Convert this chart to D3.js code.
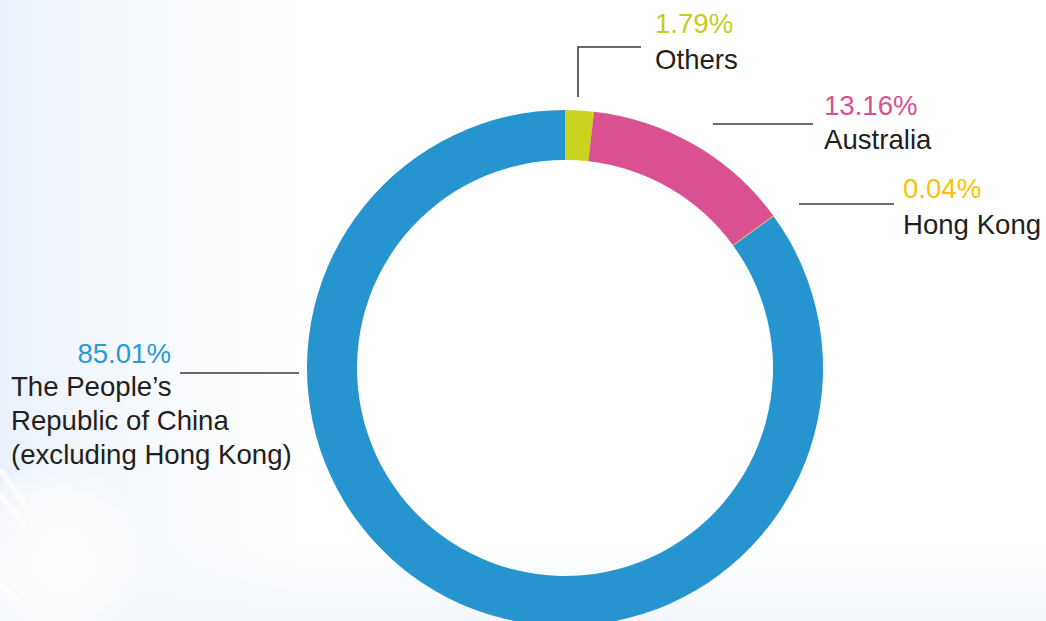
<!DOCTYPE html>
<html>
<head>
<meta charset="utf-8">
<script src="https://cdn.jsdelivr.net/npm/d3@7"></script>
<style>
  html, body { margin: 0; padding: 0; background: #fff; }
  svg { display: block; font-family: "Liberation Sans", Arial, sans-serif; }
</style>
</head>
<body>
<div id="chart"></div>
<script>
// dados (sentido horário a partir do topo)
const categories = ["Others", "Australia", "Hong Kong", "The People’s Republic of China (excluding Hong Kong)"];
const values = [1.79, 13.16, 0.04, 85.01];
const valueLabels = ["1.79%", "13.16%", "0.04%", "85.01%"];
const labelLines = [["Others"], ["Australia"], ["Hong Kong"], ["The People’s", "Republic of China", "(excluding Hong Kong)"]];
const colors = ["#cbd321", "#d95190", "#f6c300", "#2594cf"];
const textColors = ["#c5cc22", "#d95190", "#f6c300", "#2a9ad6"];

const width = 1046, height = 621;
const cx = 565, cy = 368;
const outerR = 258, innerR = 208;

const svg = d3.select("#chart").append("svg")
  .attr("width", width)
  .attr("height", height);

// fundo com degradê suave à esquerda
const defs = svg.append("defs");
const gh = defs.append("linearGradient").attr("id", "bgH").attr("x1", 0).attr("x2", 1).attr("y1", 0).attr("y2", 0);
gh.append("stop").attr("offset", "0%").attr("stop-color", "#eaf1fa");
gh.append("stop").attr("offset", "14%").attr("stop-color", "#f7fafd");
gh.append("stop").attr("offset", "30%").attr("stop-color", "#ffffff");
const gv = defs.append("linearGradient").attr("id", "bgV").attr("x1", 0).attr("x2", 0).attr("y1", 0).attr("y2", 1);
gv.append("stop").attr("offset", "0%").attr("stop-color", "#f6f9fd").attr("stop-opacity", 0);
gv.append("stop").attr("offset", "100%").attr("stop-color", "#f3f7fc").attr("stop-opacity", 1);
const glow = defs.append("radialGradient").attr("id", "glow");
glow.append("stop").attr("offset", "0%").attr("stop-color", "#ffffff").attr("stop-opacity", 0.9);
glow.append("stop").attr("offset", "70%").attr("stop-color", "#ffffff").attr("stop-opacity", 0.6);
glow.append("stop").attr("offset", "100%").attr("stop-color", "#ffffff").attr("stop-opacity", 0);

svg.append("rect").attr("width", width).attr("height", height).attr("fill", "url(#bgH)");
svg.append("rect").attr("y", 540).attr("width", width).attr("height", 81).attr("fill", "url(#bgV)");

// mancha clara e riscos no canto inferior esquerdo
svg.append("circle").attr("cx", 55).attr("cy", 555).attr("r", 95).attr("fill", "url(#glow)");
[[0, 470, 30, 510], [0, 495, 25, 525], [0, 585, 18, 600]].forEach(([x1, y1, x2, y2]) => {
  svg.append("line")
    .attr("x1", x1).attr("y1", y1).attr("x2", x2).attr("y2", y2)
    .attr("stroke", "#ffffff")
    .attr("stroke-opacity", 0.8)
    .attr("stroke-width", 5);
});

// anel
const pie = d3.pie().sort(null).value(d => d)(values);
const arc = d3.arc().innerRadius(innerR).outerRadius(outerR);

svg.append("g")
  .attr("transform", `translate(${cx},${cy})`)
  .selectAll("path")
  .data(pie)
  .enter()
  .append("path")
  .attr("d", arc)
  .attr("fill", (d, i) => colors[i]);

// linhas de chamada
const leaderColor = "#3a3a3a";
const leaders = [
  [[578, 97], [578, 47], [641, 47]],
  [[713, 124], [813, 124]],
  [[799, 204], [894, 204]],
  [[180, 373], [299, 373]]
];
leaders.forEach(pts => {
  svg.append("path")
    .attr("d", d3.line()(pts))
    .attr("fill", "none")
    .attr("stroke", leaderColor)
    .attr("stroke-width", 1.6);
});

// rótulos
const fs = 27.6;
const labelPos = [
  { x: 655, y: 33, anchor: "start", lx: 655, ly: 69 },
  { x: 824, y: 115, anchor: "start", lx: 824, ly: 149 },
  { x: 903, y: 198, anchor: "start", lx: 903, ly: 234 },
  { x: 171, y: 363, anchor: "end", lx: 11, ly: 396 }
];
const lineH = 34;

labelPos.forEach((p, i) => {
  svg.append("text")
    .attr("x", p.x)
    .attr("y", p.y)
    .attr("text-anchor", p.anchor)
    .attr("fill", textColors[i])
    .attr("font-size", `${fs}px`)
    .text(valueLabels[i]);

  labelLines[i].forEach((line, j) => {
    svg.append("text")
      .attr("x", p.lx)
      .attr("y", p.ly + j * lineH)
      .attr("fill", "#231f20")
      .attr("font-size", `${fs}px`)
      .text(line);
  });
});
</script>
</body>
</html>
